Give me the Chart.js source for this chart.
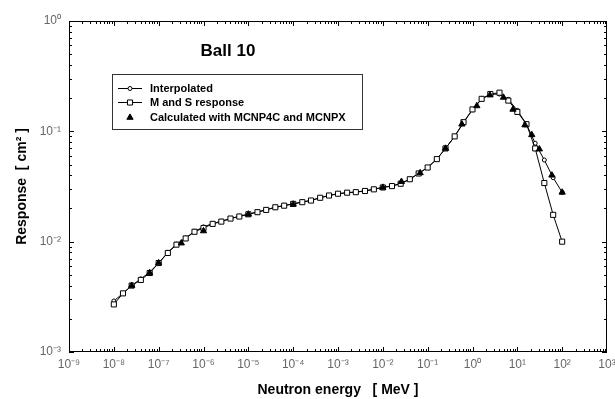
<!DOCTYPE html>
<html>
<head>
<meta charset="utf-8">
<script src="https://cdn.jsdelivr.net/npm/chart.js@4.4.1/dist/chart.umd.min.js"></script>
<style>
  html, body { margin: 0; padding: 0; background: #fff; }
  #wrap { width: 615px; height: 399px; }
</style>
</head>
<body>
<div id="wrap"><canvas id="myChart"></canvas></div>
<script>
// M and S response (squares)
var msEnergy = [
  1e-8, 1.6e-8, 2.5e-8, 4e-8, 6.3e-8,
  1e-7, 1.6e-7, 2.5e-7, 4e-7, 6.3e-7,
  1e-6, 1.6e-6, 2.5e-6, 4e-6, 6.3e-6,
  1e-5, 1.6e-5, 2.5e-5, 4e-5, 6.3e-5,
  1e-4, 1.6e-4, 2.5e-4, 4e-4, 6.3e-4,
  1e-3, 1.6e-3, 2.5e-3, 4e-3, 6.3e-3,
  1e-2, 1.6e-2, 2.5e-2, 4e-2, 6.3e-2,
  0.1, 0.16, 0.25, 0.4, 0.63,
  1, 1.6, 2.5, 4, 6.3,
  10, 16, 25, 40, 63, 100
];
var msResponse = [
  0.0027, 0.0034, 0.0040, 0.0045, 0.0052,
  0.0064, 0.0079, 0.0094, 0.0107, 0.0123,
  0.0133, 0.0145, 0.0152, 0.0162, 0.0169,
  0.0177, 0.0185, 0.0194, 0.0205, 0.0212,
  0.0220, 0.0228, 0.0236, 0.0250, 0.0262,
  0.0272, 0.0278, 0.0281, 0.0288, 0.0298,
  0.0310, 0.0319, 0.0335, 0.0368, 0.0415,
  0.047, 0.056, 0.070, 0.090, 0.121,
  0.158, 0.197, 0.218, 0.224, 0.190,
  0.150, 0.116, 0.070, 0.034, 0.0175, 0.010
];

// Interpolated (small circles)
var interpEnergy = [
  1e-8, 1.6e-8, 2.5e-8, 4e-8, 6.3e-8,
  1e-7, 1.6e-7, 2.5e-7, 4e-7, 6.3e-7,
  1e-6, 1.6e-6, 2.5e-6, 4e-6, 6.3e-6,
  1e-5, 1.6e-5, 2.5e-5, 4e-5, 6.3e-5,
  1e-4, 1.6e-4, 2.5e-4, 4e-4, 6.3e-4,
  1e-3, 1.6e-3, 2.5e-3, 4e-3, 6.3e-3,
  1e-2, 1.6e-2, 2.5e-2, 4e-2, 6.3e-2,
  0.1, 0.16, 0.25, 0.4, 0.63,
  1, 1.6, 2.5, 4, 6.3,
  10, 16, 25, 40, 63, 100
];
var interpResponse = [
  0.0029, 0.0034, 0.0040, 0.0046, 0.0053,
  0.0064, 0.0080, 0.0095, 0.0108, 0.0124,
  0.0136, 0.0146, 0.0153, 0.0162, 0.0170,
  0.0178, 0.0186, 0.0195, 0.0205, 0.0213,
  0.0220, 0.0229, 0.0237, 0.0250, 0.0262,
  0.0272, 0.0278, 0.0282, 0.0289, 0.0299,
  0.0311, 0.0320, 0.0337, 0.0369, 0.0416,
  0.047, 0.056, 0.070, 0.090, 0.120,
  0.157, 0.196, 0.216, 0.218, 0.195,
  0.155, 0.116, 0.078, 0.055, 0.038, 0.028
];

// Calculated with MCNP4C and MCNPX (triangles)
var calcEnergy = [
  2.5e-8, 6.3e-8, 1e-7, 3.2e-7, 1e-6, 1e-5, 1e-4, 1e-2,
  0.026, 0.068, 0.25, 0.58, 1.25, 2.45, 4.9, 8, 14.8, 21, 31, 59, 100
];
var calcResponse = [
  0.0040, 0.0052, 0.0064, 0.0097, 0.0125, 0.0177, 0.0218, 0.0310,
  0.035, 0.042, 0.070, 0.116, 0.170, 0.213, 0.203, 0.158, 0.114, 0.093, 0.069, 0.040, 0.028
];

var xTickValues = [1e-9, 1e-8, 1e-7, 1e-6, 1e-5, 1e-4, 1e-3, 1e-2, 1e-1, 1, 10, 100, 1000];
var xTickLabels = ['10⁻⁹', '10⁻⁸', '10⁻⁷', '10⁻⁶', '10⁻⁵', '10⁻⁴', '10⁻³', '10⁻²', '10⁻¹', '10⁰', '10¹', '10²', '10³'];
var yTickValues = [1e-3, 1e-2, 1e-1, 1];
var yTickLabels = ['10⁻³', '10⁻²', '10⁻¹', '10⁰'];

function pairs(xs, ys) {
  return xs.map(function (v, i) { return { x: v, y: ys[i] }; });
}

var FONT = '"Liberation Sans", Arial, sans-serif';

// frame, inward ticks, title and legend box
var decorations = {
  id: 'decorations',
  afterDatasetsDraw: function (chart) {
    var ctx = chart.ctx, a = chart.chartArea, x = chart.scales.x, y = chart.scales.y;
    ctx.save();
    ctx.strokeStyle = '#000';
    ctx.lineWidth = 1;
    ctx.strokeRect(Math.round(a.left) + 0.5, Math.round(a.top) + 0.5,
      Math.round(a.right - a.left) - 1, Math.round(a.bottom - a.top) - 1);

    ctx.beginPath();
    for (var p = -9; p < 3; p++) {
      for (var k = 1; k < 10; k++) {
        var px = Math.round(x.getPixelForValue(k * Math.pow(10, p))) + 0.5;
        var len = k === 1 ? 5 : 3;
        ctx.moveTo(px, a.bottom); ctx.lineTo(px, a.bottom - len);
        ctx.moveTo(px, a.top); ctx.lineTo(px, a.top + len);
      }
    }
    for (var q = -3; q < 0; q++) {
      for (var m = 1; m < 10; m++) {
        var py = Math.round(y.getPixelForValue(m * Math.pow(10, q))) + 0.5;
        var l2 = m === 1 ? 5 : 3;
        ctx.moveTo(a.left, py); ctx.lineTo(a.left + l2, py);
        ctx.moveTo(a.right, py); ctx.lineTo(a.right - l2, py);
      }
    }
    ctx.stroke();

    // title inside plot
    ctx.fillStyle = '#000';
    ctx.font = 'bold 17px ' + FONT;
    ctx.textAlign = 'center';
    ctx.textBaseline = 'middle';
    ctx.fillText('Ball 10', 228, 51);

    // legend box
    ctx.fillStyle = '#fff';
    ctx.fillRect(112, 74, 250, 55);
    ctx.strokeStyle = '#333';
    ctx.strokeRect(112.5, 74.5, 250, 55);
    ctx.font = 'bold 11px ' + FONT;
    ctx.textAlign = 'left';
    var rows = [
      { text: 'Interpolated', y: 88, ds: 0, line: true },
      { text: 'M and S response', y: 102, ds: 1, line: true },
      { text: 'Calculated with MCNP4C and MCNPX', y: 117, ds: 2, line: false }
    ];
    rows.forEach(function (r) {
      var d = chart.data.datasets[r.ds];
      ctx.lineWidth = 1;
      ctx.strokeStyle = '#000';
      if (r.line) {
        ctx.beginPath();
        ctx.moveTo(118, r.y + 0.5); ctx.lineTo(142, r.y + 0.5);
        ctx.stroke();
      }
      ctx.fillStyle = d.pointBackgroundColor;
      ctx.strokeStyle = d.pointBorderColor;
      Chart.helpers.drawPoint(ctx, {
        pointStyle: d.pointStyle, radius: d.pointRadius, rotation: 0,
        borderWidth: d.pointBorderWidth
      }, 130, r.y + 0.5);
      ctx.fillStyle = '#000';
      ctx.fillText(r.text, 150, r.y + 1);
    });
    ctx.restore();
  }
};

var ctx = document.getElementById('myChart');

var myChart = new Chart(ctx, {
  type: 'scatter',
  data: {
    datasets: [{
      label: 'Interpolated',
      order: 2,
      data: pairs(interpEnergy, interpResponse),
      showLine: true,
      borderColor: '#000',
      borderWidth: 1,
      pointStyle: 'circle',
      pointRadius: 2,
      pointBorderWidth: 1,
      pointBackgroundColor: '#fff',
      pointBorderColor: '#000'
    }, {
      label: 'M and S response',
      order: 1,
      data: pairs(msEnergy, msResponse),
      showLine: true,
      borderColor: '#000',
      borderWidth: 1,
      pointStyle: 'rect',
      pointRadius: 3.6,
      pointBorderWidth: 1,
      pointBackgroundColor: '#fff',
      pointBorderColor: '#000'
    }, {
      label: 'Calculated with MCNP4C and MCNPX',
      order: 0,
      data: pairs(calcEnergy, calcResponse),
      showLine: false,
      pointStyle: 'triangle',
      pointRadius: 3.6,
      pointBorderWidth: 1,
      pointBackgroundColor: '#000',
      pointBorderColor: '#000'
    }]
  },
  options: {
    responsive: true,
    maintainAspectRatio: false,
    animation: false,
    layout: { padding: { left: 0, right: 8, top: 21, bottom: 0 } },
    plugins: {
      legend: { display: false },
      tooltip: { enabled: false }
    },
    scales: {
      x: {
        type: 'logarithmic',
        min: 1e-9,
        max: 1e3,
        afterBuildTicks: function (scale) {
          scale.ticks = xTickValues.map(function (v) { return { value: v }; });
        },
        afterFit: function (scale) {
          scale.height = 47;
          scale.paddingLeft = 0;
          scale.paddingRight = 0;
        },
        ticks: {
          autoSkip: false,
          maxRotation: 0,
          padding: 5,
          color: '#666',
          font: { family: FONT, size: 12 },
          callback: function (v) {
            var i = xTickValues.indexOf(v);
            return i >= 0 ? xTickLabels[i] : '';
          }
        },
        grid: { display: false, drawTicks: false },
        border: { display: false },
        title: {
          display: true,
          text: 'Neutron energy   [ MeV ]',
          color: '#000',
          font: { family: FONT, size: 14, weight: 'bold' },
          padding: { top: 4, bottom: 0 }
        }
      },
      y: {
        type: 'logarithmic',
        min: 1e-3,
        max: 1,
        afterBuildTicks: function (scale) {
          scale.ticks = yTickValues.map(function (v) { return { value: v }; });
        },
        afterFit: function (scale) {
          scale.width = 69;
          scale.paddingTop = 0;
          scale.paddingBottom = 0;
        },
        ticks: {
          autoSkip: false,
          padding: 8,
          color: '#666',
          font: { family: FONT, size: 12 },
          callback: function (v) {
            var i = yTickValues.indexOf(v);
            return i >= 0 ? yTickLabels[i] : '';
          }
        },
        grid: { display: false, drawTicks: false },
        border: { display: false },
        title: {
          display: true,
          text: 'Response  [ cm² ]',
          color: '#000',
          font: { family: FONT, size: 14, weight: 'bold' },
          padding: { top: 14, bottom: 0 }
        }
      }
    }
  },
  plugins: [decorations]
});
</script>
</body>
</html>
